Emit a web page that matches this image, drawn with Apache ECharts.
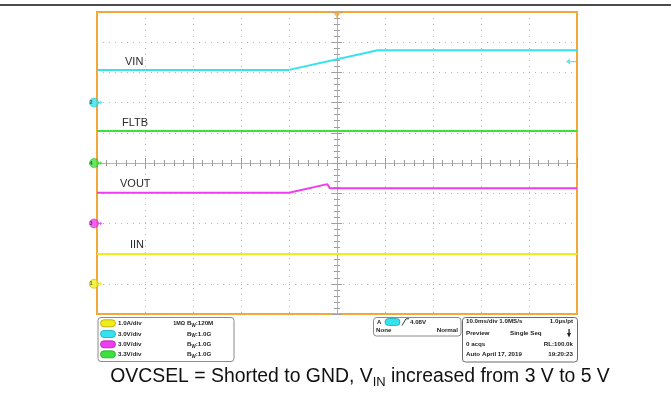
<!DOCTYPE html>
<html>
<head>
<meta charset="utf-8">
<script src="https://cdn.jsdelivr.net/npm/echarts@6/dist/echarts.min.js"></script>
<style>
  html, body { margin: 0; padding: 0; background: #fff; }
  #c { width: 671px; height: 397px; }
</style>
</head>
<body>
<div id="c"></div>
<script>
// ---- Acquisition: 10.0 ms/div, 10 x 10 graticule, trigger at centre ----
const timeMin = -50, timeMax = 50, timeDiv = 10;   // ms
const divMin = -5, divMax = 5;                    // vertical divisions

// ---- Waveforms (time in ms, amplitude in channel units) ----
const vinTime   = [-50, -10, 8.5, 50];
const vinVolts  = [3.25, 3.25, 5.2, 5.2];          // C2, 3.0 V/div
const fltbTime  = [-50, 50];
const fltbVolts = [3.5, 3.5];                      // C4, 3.3 V/div
const voutTime  = [-50, -10, -2, -1.5, 50];
const voutVolts = [3.04, 3.04, 3.9, 3.5, 3.5];     // C3, 3.0 V/div
const iinTime   = [-50, 50];
const iinAmps   = [0.99, 0.99];                    // C1, 1.0 A/div

// ---- Channel setup ----
const chNames   = ['C1', 'C2', 'C3', 'C4'];
const chScales  = [1.0, 3.0, 3.0, 3.3];            // units per division
const chOffsets = [-4, 2, -2, 0];                  // ground position, divisions
const chUnits   = ['A', 'V', 'V', 'V'];
const chBW      = ['120M', '1.0G', '1.0G', '1.0G'];
const trigLevel = 4.08;                            // V on C2

const colors = { C1: '#eeee1c', C2: '#35e2ee', C3: '#f03cf0', C4: '#3ee03e' };
const badgeBorder = { C1: '#b8a000', C2: '#1aa8b4', C3: '#b020b0', C4: '#1fa81f' };
const ORANGE = '#f2a73a';

function toDiv(times, vals, ch) {
  const k = chNames.indexOf(ch);
  return times.map((t, i) => [t, vals[i] / chScales[k] + chOffsets[k]]);
}

const chart = echarts.init(document.getElementById('c'), null, { renderer: 'canvas' });

const gridL = 97, gridT = 12, gridW = 480, gridH = 302;

function xAx(extra) {
  return Object.assign({
    type: 'value', min: timeMin, max: timeMax, interval: timeDiv,
    axisLabel: { show: false },
    axisLine: { show: false },
    axisTick: { show: true, inside: true, length: 5, lineStyle: { color: '#9a9a9a', width: 1 } },
    minorTick: { show: true, splitNumber: 5, length: 3, lineStyle: { color: '#9a9a9a', width: 1 } },
    splitLine: { show: false }
  }, extra);
}
function yAx(extra) {
  return Object.assign({
    type: 'value', min: divMin, max: divMax, interval: 1,
    axisLabel: { show: false },
    axisLine: { show: false },
    axisTick: { show: true, inside: true, length: 5, lineStyle: { color: '#9a9a9a', width: 1 } },
    minorTick: { show: true, splitNumber: 5, length: 3, lineStyle: { color: '#9a9a9a', width: 1 } },
    splitLine: { show: false }
  }, extra);
}

const centreLine = { show: true, onZero: true, lineStyle: { color: '#b4b4b4', width: 1 } };
const cTick = (inside) => ({ show: true, inside, length: 3, lineStyle: { color: '#a0a0a0' } });
const cMinor = { show: true, splitNumber: 5, length: 2, lineStyle: { color: '#a0a0a0' } };

function trace(name, data, color) {
  return {
    name, type: 'line', data, xAxisIndex: 0, yAxisIndex: 0,
    showSymbol: false, animation: false, z: 5,
    lineStyle: { color, width: 2 }
  };
}

// channel ground markers on the left edge
const markerSeries = chNames.map((ch, k) => ({
  type: 'scatter', xAxisIndex: 0, yAxisIndex: 0, clip: false, z: 10, animation: false,
  data: [[timeMin, chOffsets[k]]],
  symbol: 'circle', symbolSize: 9, symbolOffset: [-3, 0],
  itemStyle: { color: colors[ch], borderColor: badgeBorder[ch], borderWidth: 0.6 },
  label: { show: true, position: 'inside', offset: [-3, 0], formatter: String(k + 1),
           fontSize: 5.5, fontWeight: 'bold', color: '#333', fontFamily: 'Liberation Sans' }
}));
const markerArrows = chNames.map((ch, k) => ({
  type: 'scatter', xAxisIndex: 0, yAxisIndex: 0, clip: false, z: 9, animation: false,
  data: [[timeMin, chOffsets[k]]],
  symbol: 'path://M0,2 L3,2 L3,0 L6,3 L3,6 L3,4 L0,4 Z', symbolSize: [5, 4], symbolOffset: [3, 0],
  itemStyle: { color: colors[ch] }
}));

const option = {
  animation: false,
  backgroundColor: '#fff',
  grid: { left: gridL, top: gridT, width: gridW, height: gridH,
          show: true, borderColor: ORANGE, borderWidth: 2, backgroundColor: '#fff' },
  xAxis: [
    xAx({ position: 'bottom',
          splitLine: { show: true, lineStyle: { color: '#b8b8b8', width: 1, type: [1, 5] } } }),
    xAx({ position: 'top' }),
    xAx({ position: 'bottom', axisLine: centreLine, axisTick: cTick(true), minorTick: cMinor }),
    xAx({ position: 'bottom', axisLine: centreLine, axisTick: cTick(false), minorTick: cMinor })
  ],
  yAxis: [
    yAx({ position: 'left',
          splitLine: { show: true, lineStyle: { color: '#b8b8b8', width: 1, type: [1, 5] } } }),
    yAx({ position: 'right' }),
    yAx({ position: 'left', axisLine: centreLine, axisTick: cTick(true), minorTick: cMinor }),
    yAx({ position: 'left', axisLine: centreLine, axisTick: cTick(false), minorTick: cMinor })
  ],
  series: [
    trace('VIN', toDiv(vinTime, vinVolts, 'C2'), colors.C2),
    trace('FLTB', toDiv(fltbTime, fltbVolts, 'C4'), colors.C4),
    trace('VOUT', toDiv(voutTime, voutVolts, 'C3'), colors.C3),
    trace('IIN', toDiv(iinTime, iinAmps, 'C1'), colors.C1),
    ...markerArrows,
    ...markerSeries,
    // trigger position (top) and trigger level (right edge)
    {
      type: 'scatter', xAxisIndex: 0, yAxisIndex: 0, clip: false, z: 10, animation: false,
      data: [[0, divMax]], symbol: 'triangle', symbolRotate: 180, symbolSize: [8, 6], symbolOffset: [0, 3],
      itemStyle: { color: ORANGE }
    },
    {
      type: 'scatter', xAxisIndex: 0, yAxisIndex: 0, clip: false, z: 10, animation: false,
      data: [[timeMax, trigLevel / chScales[1] + chOffsets[1]]],
      symbol: 'path://M0,3 L4,0 L4,2.4 L10,2.4 L10,3.6 L4,3.6 L4,6 Z', symbolSize: [10, 6], symbolOffset: [-6, 0],
      itemStyle: { color: colors.C2 }
    }
  ]
};

// ---- trace names, readout panel and caption ----
const F = 'Liberation Sans, Arial, sans-serif';
const SMALL = 'bold 6.2px ' + F;
const G = [];
function txt(x, y, s, opt) {
  G.push({ type: 'text', x, y, z: 20, silent: true,
    style: Object.assign({ text: s, fill: '#222', font: SMALL,
                           textVerticalAlign: 'middle' }, opt || {}) });
}
// waveform labels
[['VIN', 125, 62], ['FLTB', 122, 123], ['VOUT', 120, 184], ['IIN', 130, 245]].forEach(([s, x, y]) =>
  txt(x, y, s, { font: '11px ' + F, fill: '#2a2a2a' }));

// top rule
G.push({ type: 'line', z: 20, silent: true, shape: { x1: 0, y1: 5, x2: 671, y2: 5 },
         style: { stroke: '#111', lineWidth: 1.4 } });

// boxes
function box(x, y, w, h, stroke) {
  G.push({ type: 'rect', z: 15, silent: true, shape: { x, y, width: w, height: h, r: 3 },
           style: { fill: '#fff', stroke: stroke || '#8a8a8a', lineWidth: 1 } });
}
box(98, 317.5, 136, 44);
box(373.5, 317.5, 87.5, 18.5);
box(462.5, 317.5, 115, 44.5, '#6a6a6a');

function badge(x, y, ch) {
  G.push({ type: 'rect', z: 21, silent: true, shape: { x, y: y - 3.5, width: 15, height: 7, r: 3.5 },
           style: { fill: colors[ch], stroke: badgeBorder[ch], lineWidth: 0.8 } });
  txt(x + 7.5, y, ch, { font: 'bold 4.5px ' + F, textAlign: 'center', fill: '#333' });
}

// channel readouts
const rowY = [323.3, 334, 344.3, 354.3];
chNames.forEach((ch, k) => {
  badge(100.5, rowY[k], ch);
  txt(118, rowY[k], chScales[k].toFixed(1) + chUnits[k] + '/div');
  if (k === 0) txt(185, rowY[k], '1M\u03a9', { font: 'bold 5.4px ' + F, textAlign: 'right' });
  G.push({ type: 'text', x: 187, y: rowY[k], z: 20, silent: true,
    style: { text: '{b|B}{w|W}{b|:' + chBW[k] + '}', textVerticalAlign: 'middle',
      rich: { b: { font: SMALL, fill: '#222' },
              w: { font: 'bold 4.5px ' + F, fill: '#222', padding: [4, 0, 0, 0] } } } });
});

// trigger readout
txt(377, 322, 'A', { font: 'bold 6px ' + F });
badge(385, 322, 'C2');
G.push({ type: 'polyline', z: 21, silent: true, shape: { points: [[402, 325.5], [406, 318.8], [409, 318.8]] },
         style: { stroke: '#222', lineWidth: 0.9, fill: null } });
txt(410, 322, trigLevel.toFixed(2) + 'V');
txt(376, 330.5, 'None');
txt(458, 330.5, 'Normal', { textAlign: 'right' });

// horizontal / acquisition readout
txt(466, 321.5, '10.0ms/div 1.0MS/s');
txt(573, 321.5, '1.0\u00b5s/pt', { textAlign: 'right' });
txt(466, 333.5, 'Preview');
txt(510, 333.5, 'Single Seq');
G.push({ type: 'polygon', z: 21, silent: true, shape: { points: [[567, 333], [571, 333], [569, 337.5]] },
         style: { fill: '#222' } });
G.push({ type: 'rect', z: 21, silent: true, shape: { x: 568.4, y: 329, width: 1.3, height: 4.5 },
         style: { fill: '#222' } });
txt(466, 344, '0 acqs');
txt(573, 344, 'RL:100.0k', { textAlign: 'right' });
txt(466, 354.5, 'Auto');
txt(482, 354.5, 'April 17, 2019');
txt(573, 354.5, '19:20:23', { textAlign: 'right' });

// caption
G.push({ type: 'text', x: 360, y: 377, z: 20, silent: true,
  style: { text: '{a|OVCSEL = Shorted to GND, V}{s|IN}{a| increased from 3 V to 5 V}',
    textAlign: 'center', textVerticalAlign: 'middle',
    rich: { a: { font: '19.4px ' + F, fill: '#111' },
            s: { font: '13px ' + F, fill: '#111', padding: [10, 0, 0, 0] } } } });

option.graphic = G;
chart.setOption(option);
</script>
</body>
</html>
